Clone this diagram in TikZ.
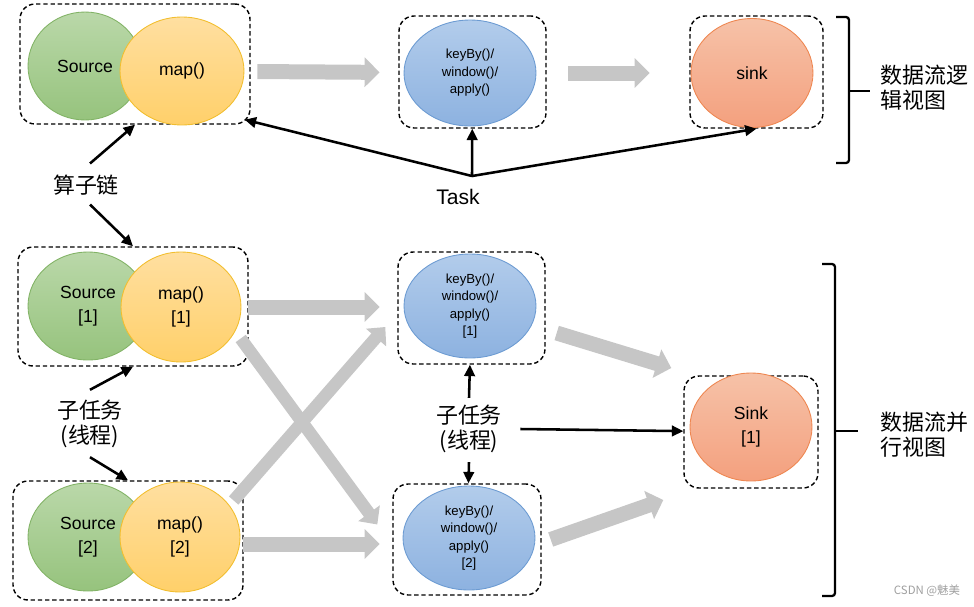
\documentclass[tikz,border=0pt]{standalone}
\usepackage{fontspec}
\setmainfont{Liberation Sans}
\newfontfamily\cjk{Noto Sans CJK SC}
\usetikzlibrary{arrows.meta,shapes.geometric,calc}

\definecolor{srcTop}{HTML}{BAD8A9}
\definecolor{srcBot}{HTML}{96C37D}
\definecolor{srcLine}{HTML}{82B366}
\definecolor{mapTop}{HTML}{FFDFA0}
\definecolor{mapBot}{HTML}{FFD06A}
\definecolor{mapLine}{HTML}{F2BE2E}
\definecolor{winTop}{HTML}{B2CCEB}
\definecolor{winBot}{HTML}{8DB2E0}
\definecolor{winLine}{HTML}{6C9BD2}
\definecolor{sinkTop}{HTML}{F6C2A8}
\definecolor{sinkBot}{HTML}{F4A07E}
\definecolor{sinkLine}{HTML}{EE8650}
\definecolor{flowGray}{HTML}{C6C6C6}

\tikzset{
  group/.style 2 args={draw, dash pattern=on 2.5pt off 1.6pt, line width=0.8pt,
    rounded corners=0.3cm, minimum width=#1, minimum height=#2, inner sep=0pt},
  op/.style={ellipse, inner sep=0pt, align=center, line width=0.5pt,
    minimum width=2.4cm, minimum height=2.16cm, font=\fontsize{10}{13.5}\selectfont},
  src/.style={op, draw=srcLine, top color=srcTop, bottom color=srcBot},
  mapop/.style={op, draw=mapLine, top color=mapTop, bottom color=mapBot},
  winop/.style={op, draw=winLine, top color=winTop, bottom color=winBot,
    minimum width=2.64cm, minimum height=2.08cm, font=\fontsize{7.5}{10}\selectfont},
  sinkop/.style={op, draw=sinkLine, top color=sinkTop, bottom color=sinkBot,
    minimum width=2.44cm, minimum height=2.18cm},
  flow/.style={draw=flowGray, line width=0.3cm,
    -{Triangle[length=0.3cm,width=0.58cm]}},
  cross/.style={draw=flowGray, line width=0.25cm,
    -{Triangle[length=0.28cm,width=0.52cm]}},
  link/.style={line width=1.45pt, -{Triangle[length=6.5pt,width=6pt]}},
  brace/.style={line width=1.3pt, rounded corners=0.06cm},
  cn/.style={font=\cjk\fontsize{12.5}{14.2}\selectfont, inner sep=0pt, align=center}
}

\begin{document}
\begin{tikzpicture}[x=0.02cm, y=-0.02cm]
\useasboundingbox (0,0) rectangle (974,606);

\node[group={4.6cm}{2.4cm}] (chain_0) at (135,64) {};
\node[group={2.94cm}{2.24cm}] (win_box_0) at (472.5,72) {};
\node[group={2.66cm}{2.24cm}] (sink_box_0) at (756.5,72) {};
\node[src, minimum width=2.28cm] (src_0) at (85,66) {Source};
\node[mapop, minimum width=2.48cm] (map_0) at (182,71) {map()};
\node[winop, minimum height=2.12cm] (win_0) at (470,73) {keyBy()/\\window()/\\apply()};
\node[sinkop] (sink_0) at (752,73) {sink};

\node[group={4.6cm}{2.38cm}] (chain_1) at (133,306.5) {};
\node[group={4.6cm}{2.38cm}] (chain_2) at (128,540.5) {};
\node[group={2.94cm}{2.24cm}] (win_box_1) at (471.5,308) {};
\node[group={2.96cm}{2.22cm}] (win_box_2) at (467,539.5) {};
\node[group={2.68cm}{2.24cm}] (sink_box_1) at (751,432) {};
\node[src] (src_1) at (88,306) {Source\\{[1]}};
\node[mapop, minimum height=2.2cm] (map_1) at (181,307) {map()\\{[1]}};
\node[src] (src_2) at (88,537) {Source\\{[2]}};
\node[mapop, minimum height=2.2cm] (map_2) at (180,537) {map()\\{[2]}};
\node[winop] (win_1) at (470,306) {keyBy()/\\window()/\\apply()\\{[1]}};
\node[winop] (win_2) at (469,538) {keyBy()/\\window()/\\apply()\\{[2]}};
\node[sinkop, minimum height=2.16cm] (sink_1) at (751,427) {Sink\\{[1]}};

\draw[flow, shorten <=0.26cm, shorten >=0.48cm] (map_0) -- (win_0);
\draw[flow, shorten <=0.64cm, shorten >=0.82cm] (win_0) -- (sink_0);
\draw[flow] ($(map_1.east)+(7,0)$) -- ($(win_1.west)+(-24,1)$);
\draw[flow] ($(map_2.east)+(3,7)$) -- ($(win_2.west)+(-23,6)$);
\draw[cross] ($(chain_1.east)+(-8,32)$) -- ($(win_box_2.west)+(-15,-15)$);
\draw[cross] ($(chain_2.east)+(-10,-40)$) -- ($(win_box_1.west)+(-12,19)$);
\draw[flow] ($(win_box_1.east)+(11,25)$) -- ($(sink_box_1.west)+(-12,-64)$);
\draw[flow] ($(win_box_2.east)+(9,0)$) -- ($(sink_box_1.west)+(-20,68)$);

\node[font=\fontsize{12}{14}\selectfont, inner sep=0pt] (task) at (458,197) {Task};
\coordinate (hub) at (472,176);
\draw[link] (hub) -- (win_box_0);
\draw[link] (hub) -- ($(chain_0.south east)+(-6,-5)$);
\draw[link] (hub) -- (sink_box_0.south);

\node[cn] (chain_lbl) at (86,185) {算子链};
\draw[link] ($(chain_lbl.north)+(4,-11)$) -- (chain_0.south);
\draw[link] ($(chain_lbl.south)+(4,9)$) -- (chain_1.north);

\node[cn] (thread_0) at (90,424) {子任务\\(线程)};
\draw[link] ($(thread_0.north)+(0,-10)$) -- (chain_1.south);
\draw[link] ($(thread_0.south)+(0,9)$) -- (chain_2.north);

\node[cn] (thread_1) at (469,429) {子任务\\(线程)};
\draw[link] ($(thread_1.north)+(0,-7)$) -- (win_box_1);
\draw[link] ($(thread_1.south)+(0,9)$) -- (win_box_2);
\draw[link] ($(thread_1.east)+(18,0)$) -- (sink_box_1);

\draw[brace] (836,17) -- (849,17) -- (849,163) -- (836,163);
\draw[brace] (849,91) -- (870,91);
\draw[brace] (822,264) -- (835,264) -- (835,596) -- (822,596);
\draw[brace] (835,431) -- (858,431);
\node[cn, anchor=west, align=left] (logic_lbl) at (880,88) {数据流逻\\辑视图};
\node[cn, anchor=west, align=left] (para_lbl) at (880,435) {数据流并\\行视图};

\node[font=\cjk\fontsize{6.5}{8}\selectfont, text=gray!75, inner sep=0pt] (mark) at (927,591) {CSDN @魅美};
\end{tikzpicture}
\end{document}
